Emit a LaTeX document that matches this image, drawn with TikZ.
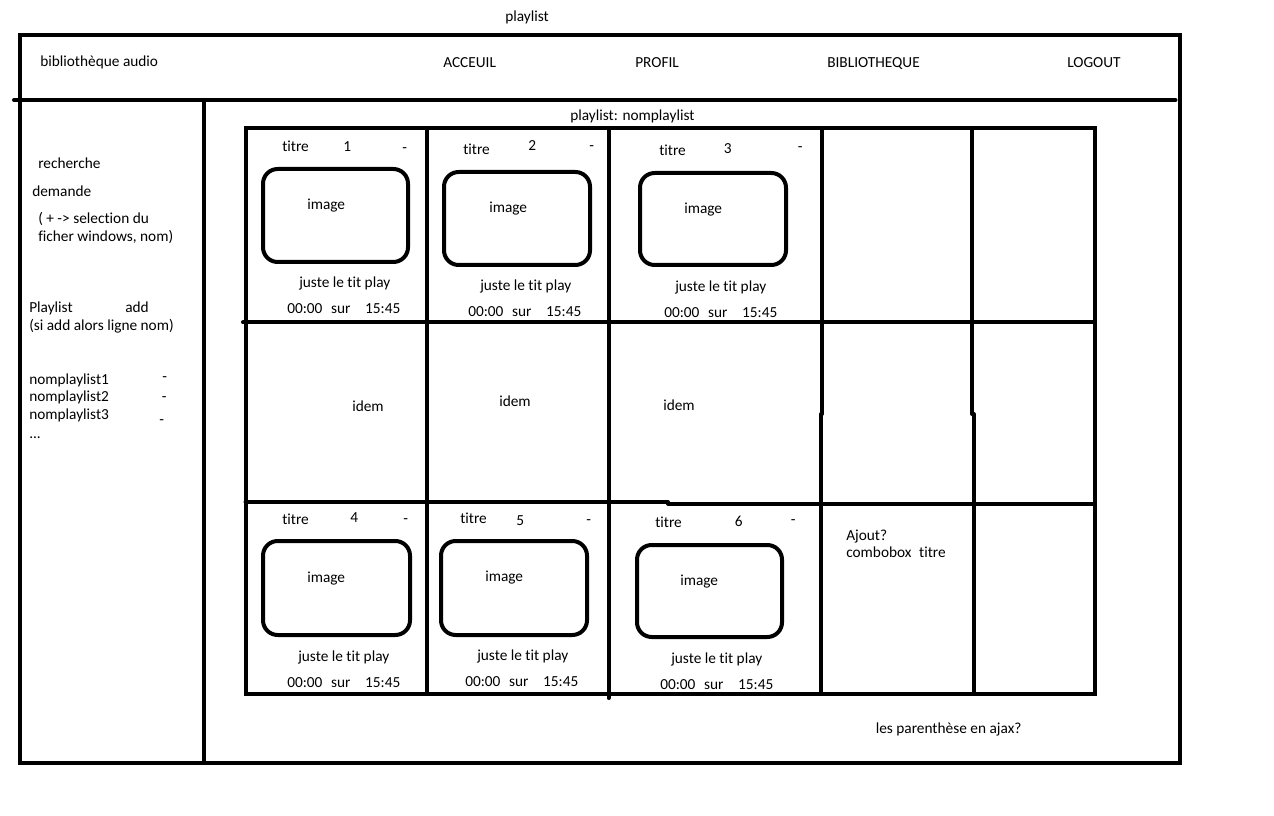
\documentclass[tikz,border=0pt]{standalone}
\usepackage{fontspec}
\setmainfont{Carlito}[Ligatures={NoCommon}]
\newcommand\tline{00:00\hspace{6.5pt}sur\hspace{11pt}15:45}
\begin{document}
\begin{tikzpicture}[x=0.75pt,y=-0.75pt,
  lbl/.style={inner sep=0pt, anchor=base west, yshift=-0.75pt, font=\fontsize{11.5}{13.5}\selectfont},
  frame/.style={line width=3pt, line cap=round},
  imgbox/.style={line width=3pt, rounded corners=11pt}]
\useasboundingbox[fill=white] (0,0) rectangle (1274,816);

% outer frame and header
\draw[frame] (20,35) rectangle (1179.5,763);
\draw[frame] (14,100) -- (1175.5,100);
\draw[frame] (203.5,100) -- (203.5,763);

% grid
\draw[frame] (245.5,128.5) rectangle (1094.5,694);
\draw[frame] (426.5,128.5) -- (426.5,694);
\draw[frame] (608.5,128.5) -- (608.5,698);
\draw[frame] (822,128.5) -- (822,414);
\draw[frame] (821,414) -- (821,694);
\draw[frame] (972,128.5) -- (972,414);
\draw[frame] (973.5,414) -- (973.5,694);
\draw[frame] (243,322.5) -- (1094.5,322.5);
\draw[frame] (245.5,502) -- (668,502);
\draw[frame] (668,503.5) -- (1094.5,503.5);

% image boxes
\draw[imgbox] (263,169) rectangle (408,262);
\draw[imgbox] (444,172) rectangle (590,265);
\draw[imgbox] (640,173) rectangle (786,265);
\draw[imgbox] (263,541) rectangle (410,635);
\draw[imgbox] (441,541) rectangle (587,635);
\draw[imgbox] (637,545) rectangle (782,637);

% top texts
\node[lbl] (title) at (505,21) {playlist};
\node[lbl] (app) at (40,66) {bibliothèque audio};
\node[lbl] (acc) at (443,66.7) {ACCEUIL};
\node[lbl] (prof) at (635,66.7) {PROFIL};
\node[lbl] (bib) at (827,66.7) {BIBLIOTHEQUE};
\node[lbl] (logout) at (1067,66.7) {LOGOUT};
\node[lbl] (plname) at (570,120) {playlist: nomplaylist};

% sidebar
\node[lbl] (rech) at (38,167.7) {recherche};
\node[lbl] (dem) at (32,196) {demande};
\node[lbl] (sel1) at (38,222.7) {( + -> selection du};
\node[lbl] (sel2) at (38,240.7) {ficher windows, nom)};
\node[lbl] (pl) at (29,311.7) {Playlist};
\node[lbl] (add) at (125,311.7) {add};
\node[lbl] (siadd) at (29,329.3) {(si add alors ligne nom)};
\node[lbl] (np1) at (29,383.3) {nomplaylist1};
\node[lbl] (np1d) at (162,381) {-};
\node[lbl] (np2) at (29,401) {nomplaylist2};
\node[lbl] (np2d) at (161.6,400.7) {-};
\node[lbl] (np3) at (29,419) {nomplaylist3};
\node[lbl] (np3d) at (159,423) {-};
\node[lbl] (dots) at (29,437.7) {...};

% cell 1
\node[lbl] (t1) at (282,150.7) {titre};
\node[lbl] (n1) at (343,150.7) {1};
\node[lbl] (d1) at (402,151.7) {-};
\node[lbl] (i1) at (307,208.3) {image};
\node[lbl] (j1) at (299,286.7) {juste le tit play};
\node[lbl] (tm1) at (287,312.7) {\tline};
% cell 2
\node[lbl] (t2) at (463,154) {titre};
\node[lbl] (n2) at (528,150) {2};
\node[lbl] (d2) at (589,149.7) {-};
\node[lbl] (i2) at (489,211.7) {image};
\node[lbl] (j2) at (480,290) {juste le tit play};
\node[lbl] (tm2) at (468,315.7) {\tline};
% cell 3
\node[lbl] (t3) at (659,155) {titre};
\node[lbl] (n3) at (723.7,152.3) {3};
\node[lbl] (d3) at (797.6,150.7) {-};
\node[lbl] (i3) at (684,212.7) {image};
\node[lbl] (j3) at (675,291) {juste le tit play};
\node[lbl] (tm3) at (664,316.7) {\tline};

% row 2
\node[lbl] (idem1) at (352,410.7) {idem};
\node[lbl] (idem2) at (499,405.7) {idem};
\node[lbl] (idem3) at (663,409.7) {idem};

% cell 4
\node[lbl] (t4) at (282,523.3) {titre};
\node[lbl] (n4) at (350,521.7) {4};
\node[lbl] (d4) at (403,522) {-};
\node[lbl] (i4) at (307,581.7) {image};
\node[lbl] (j4) at (298,660) {juste le tit play};
\node[lbl] (tm4) at (287,686) {\tline};
% cell 5
\node[lbl] (t5) at (460,522.7) {titre};
\node[lbl] (n5) at (516,524) {5};
\node[lbl] (d5) at (586,523) {-};
\node[lbl] (i5) at (485,580.7) {image};
\node[lbl] (j5) at (477,659) {juste le tit play};
\node[lbl] (tm5) at (465,685) {\tline};
% cell 6
\node[lbl] (t6) at (655,526.7) {titre};
\node[lbl] (n6) at (734.7,525) {6};
\node[lbl] (d6) at (790.6,523.3) {-};
\node[lbl] (i6) at (680,584.3) {image};
\node[lbl] (j6) at (671,662.7) {juste le tit play};
\node[lbl] (tm6) at (660,688.7) {\tline};

% cell 7
\node[lbl] (ajout) at (846,539) {Ajout?};
\node[lbl] (combo) at (846,556.7) {combobox\hspace{5.7pt}titre};

\node[lbl] (ajax) at (875.5,732.7) {les parenthèse en ajax?};
\end{tikzpicture}
\end{document}
